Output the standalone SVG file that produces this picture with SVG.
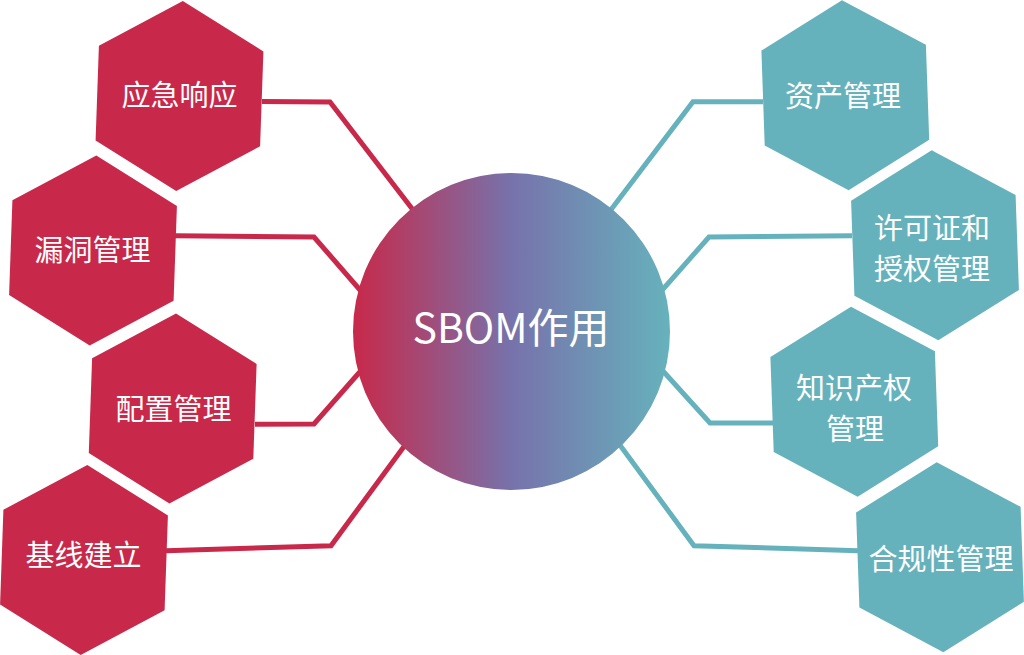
<svg xmlns="http://www.w3.org/2000/svg" xmlns:xlink="http://www.w3.org/1999/xlink" width="1024" height="655" viewBox="0 0 1024 655">
<style>
.red{fill:#C8294A}
.teal{fill:#66B2BC}
.lr{fill:none;stroke:#C8294A;stroke-width:5;stroke-linejoin:miter}
.lt{fill:none;stroke:#66B2BC;stroke-width:5;stroke-linejoin:miter}
.lbl{font-family:"Noto Sans CJK SC","Noto Sans",sans-serif;font-size:29px;fill:#FFFFFF;text-anchor:middle}
.ctr{font-family:"Noto Sans CJK SC","Noto Sans",sans-serif;font-size:41px;fill:#FFFFFF;text-anchor:middle}
</style>
<defs>
<polygon id="hex" points="0,-95 82.3,-47.5 82.3,47.5 0,95 -82.3,47.5 -82.3,-47.5"/>
<linearGradient id="grad" x1="0" y1="0" x2="1" y2="0">
<stop offset="0" stop-color="#C8294A"/>
<stop offset="0.5" stop-color="#7772AB"/>
<stop offset="1" stop-color="#66B2BC"/>
</linearGradient>
</defs>
<rect width="1024" height="655" fill="#FFFFFF"/>
<g id="connectors">
<polyline class="lr" points="262,101.5 330,102 430,232"/>
<polyline class="lr" points="175,235.7 314,237 380,313"/>
<polyline class="lr" points="255,424.3 314,424 380,349"/>
<polyline class="lr" points="166,550.7 331,545.7 425,418"/>
<polyline class="lt" points="763,101.7 693,101.7 594,232"/>
<polyline class="lt" points="852,235.7 709,237 642,313"/>
<polyline class="lt" points="773,423 710,423 643,349"/>
<polyline class="lt" points="858,550.7 694,545.7 600,418"/>
</g>
<g id="center">
<circle cx="511.5" cy="331.5" r="158.5" fill="url(#grad)"/>
<text class="ctr" x="511" y="343">SBOM作用</text>
</g>
<g id="n1"><use xlink:href="#hex" href="#hex" class="red" transform="translate(179.5,96) rotate(2)"/><text class="lbl" x="179.5" y="106">应急响应</text></g>
<g id="n2"><use xlink:href="#hex" href="#hex" class="red" transform="translate(93,250.5) rotate(2)"/><text class="lbl" x="92.5" y="260.5">漏洞管理</text></g>
<g id="n3"><use xlink:href="#hex" href="#hex" class="red" transform="translate(172.7,408.5) rotate(2)"/><text class="lbl" x="173.5" y="420">配置管理</text></g>
<g id="n4"><use xlink:href="#hex" href="#hex" class="red" transform="translate(84,560) rotate(2)"/><text class="lbl" x="83.5" y="566">基线建立</text></g>
<g id="n5"><use xlink:href="#hex" href="#hex" class="teal" transform="translate(845.3,95.2) rotate(-2)"/><text class="lbl" x="843" y="107">资产管理</text></g>
<g id="n6"><use xlink:href="#hex" href="#hex" class="teal" transform="translate(935,245.3) rotate(-2)"/><text class="lbl" x="932" y="239">许可证和</text><text class="lbl" x="932" y="280">授权管理</text></g>
<g id="n7"><use xlink:href="#hex" href="#hex" class="teal" transform="translate(854.3,401.7) rotate(-2)"/><text class="lbl" x="854" y="399">知识产权</text><text class="lbl" x="855" y="440">管理</text></g>
<g id="n8"><use xlink:href="#hex" href="#hex" class="teal" transform="translate(940,557.2) rotate(-2)"/><text class="lbl" x="941" y="570">合规性管理</text></g>
</svg>
